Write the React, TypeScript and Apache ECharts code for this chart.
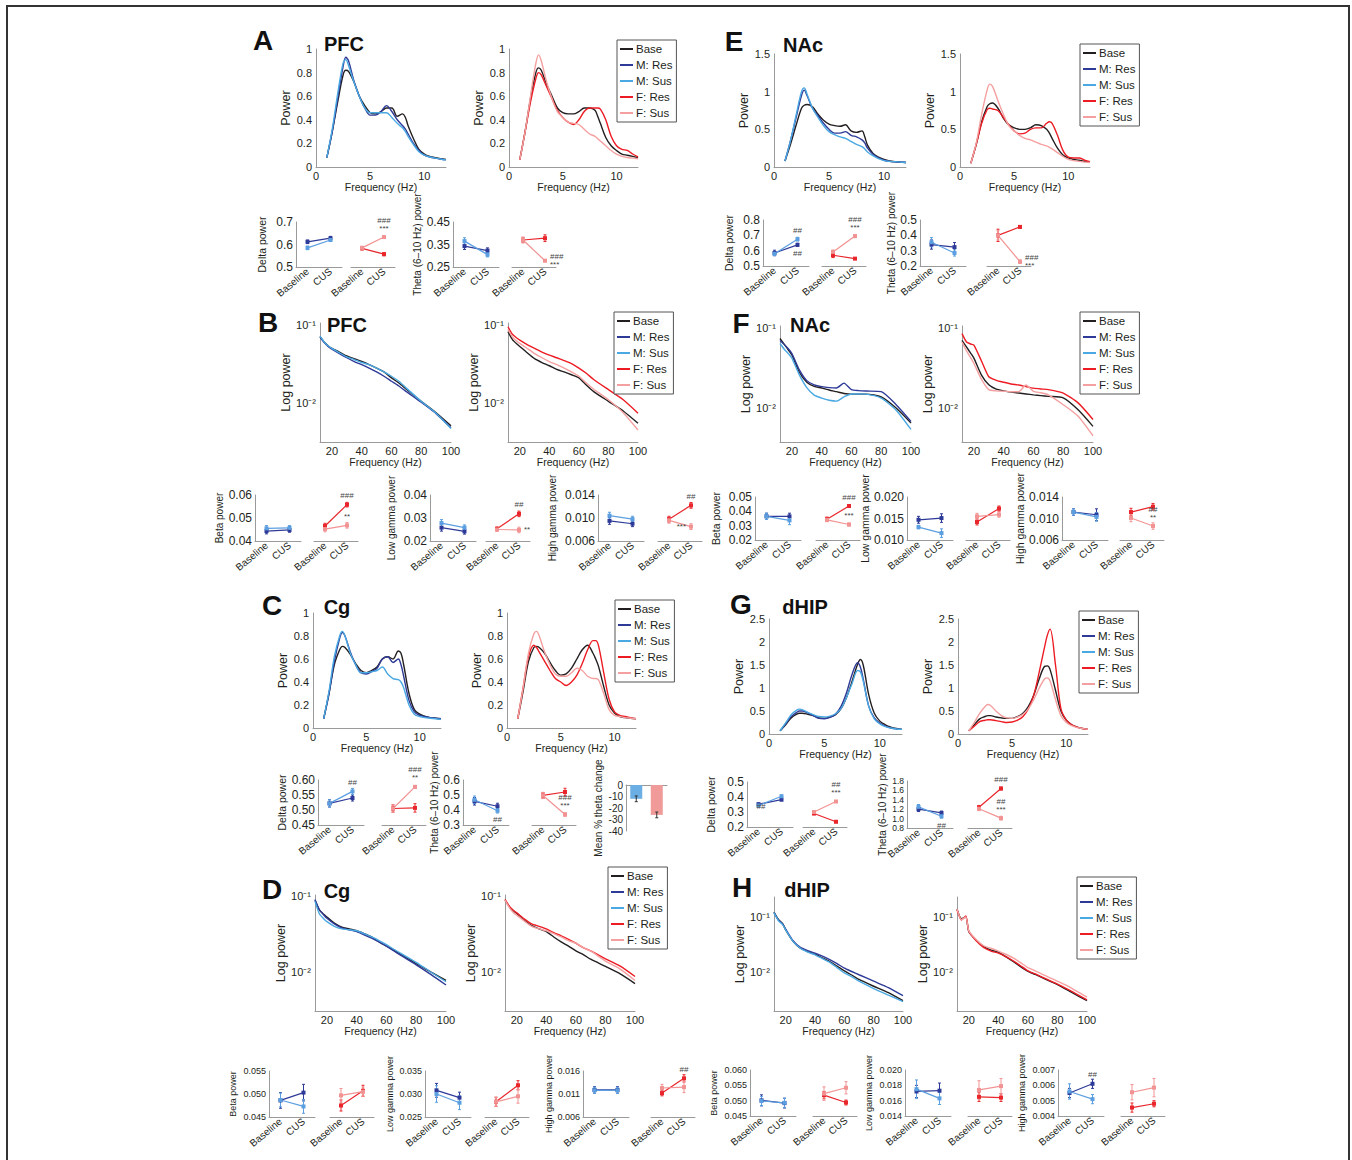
import React, { useEffect, useRef } from 'react';
import * as echarts from 'echarts';

// ---------------- data ----------------
const FREQ_LO = [1, 1.5, 2, 2.5, 2.75, 3, 3.5, 4, 4.5, 5, 5.5, 6, 6.5, 7, 7.5, 8, 8.25, 8.5, 9, 9.5, 10, 10.5, 11, 11.5, 12];
const FREQ_HI = [12, 15, 18, 20, 25, 30, 35, 40, 45, 50, 55, 60, 65, 70, 80, 90, 100];
const LEGEND_NAMES = ['Base', 'M: Res', 'M: Sus', 'F: Res', 'F: Sus'];
const GROUPS = ['Baseline', 'CUS'];
const X_TICKS_LO = [0, 5, 10];
const X_TICKS_HI = [20, 40, 60, 80, 100];

// PFC 1-12 Hz
const PFC_LO_M_BASE = [0.08, 0.3, 0.55, 0.78, 0.82, 0.81, 0.72, 0.6, 0.52, 0.46, 0.45, 0.47, 0.5, 0.5, 0.43, 0.45, 0.42, 0.35, 0.24, 0.15, 0.11, 0.09, 0.08, 0.07, 0.065];
const PFC_LO_M_RES = [0.08, 0.3, 0.58, 0.85, 0.93, 0.9, 0.73, 0.6, 0.5, 0.44, 0.44, 0.47, 0.52, 0.47, 0.4, 0.35, 0.32, 0.28, 0.2, 0.14, 0.1, 0.085, 0.075, 0.068, 0.06];
const PFC_LO_M_SUS = [0.08, 0.32, 0.62, 0.88, 0.91, 0.86, 0.72, 0.6, 0.5, 0.46, 0.46, 0.46, 0.46, 0.42, 0.37, 0.33, 0.3, 0.26, 0.19, 0.13, 0.1, 0.085, 0.075, 0.068, 0.06];
const PFC_LO_F_BASE = [0.06, 0.3, 0.58, 0.8, 0.84, 0.82, 0.7, 0.6, 0.5, 0.46, 0.45, 0.45, 0.47, 0.5, 0.5, 0.48, 0.43, 0.37, 0.25, 0.18, 0.14, 0.11, 0.1, 0.09, 0.08];
const PFC_LO_F_RES = [0.06, 0.3, 0.55, 0.75, 0.8, 0.78, 0.68, 0.58, 0.48, 0.42, 0.38, 0.36, 0.4, 0.47, 0.5, 0.5, 0.5, 0.49, 0.4, 0.26, 0.18, 0.15, 0.14, 0.11, 0.085];
const PFC_LO_F_SUS = [0.06, 0.3, 0.6, 0.88, 0.95, 0.9, 0.72, 0.58, 0.47, 0.42, 0.38, 0.37, 0.36, 0.32, 0.28, 0.26, 0.24, 0.22, 0.18, 0.14, 0.11, 0.09, 0.08, 0.075, 0.07];
// Cg 1-12 Hz
const CG_LO_M_BASE = [0.08, 0.3, 0.55, 0.68, 0.71, 0.7, 0.64, 0.56, 0.5, 0.48, 0.5, 0.53, 0.6, 0.62, 0.6, 0.67, 0.65, 0.55, 0.3, 0.16, 0.12, 0.1, 0.09, 0.085, 0.08];
const CG_LO_M_RES = [0.08, 0.3, 0.58, 0.78, 0.83, 0.8, 0.66, 0.55, 0.48, 0.47, 0.49, 0.52, 0.6, 0.62, 0.57, 0.6, 0.55, 0.45, 0.24, 0.14, 0.11, 0.1, 0.09, 0.085, 0.08];
const CG_LO_M_SUS = [0.08, 0.32, 0.62, 0.8, 0.84, 0.8, 0.65, 0.55, 0.48, 0.48, 0.49, 0.5, 0.53, 0.47, 0.43, 0.42, 0.4, 0.35, 0.2, 0.12, 0.1, 0.09, 0.085, 0.08, 0.075];
const CG_LO_F_BASE = [0.08, 0.32, 0.58, 0.7, 0.71, 0.7, 0.65, 0.57, 0.5, 0.46, 0.47, 0.52, 0.6, 0.68, 0.72, 0.65, 0.6, 0.54, 0.36, 0.2, 0.13, 0.1, 0.09, 0.085, 0.08];
const CG_LO_F_RES = [0.08, 0.35, 0.62, 0.72, 0.7, 0.66, 0.58, 0.5, 0.43, 0.4, 0.37, 0.4, 0.46, 0.56, 0.68, 0.76, 0.76, 0.72, 0.48, 0.25, 0.14, 0.11, 0.1, 0.09, 0.08];
const CG_LO_F_SUS = [0.08, 0.35, 0.65, 0.82, 0.84, 0.8, 0.66, 0.55, 0.47, 0.45, 0.45, 0.48, 0.52, 0.5, 0.45, 0.43, 0.43, 0.42, 0.3, 0.16, 0.11, 0.1, 0.09, 0.085, 0.08];
// NAc 1-12 Hz
const NAC_LO_M_BASE = [0.08, 0.3, 0.55, 0.78, 0.82, 0.83, 0.8, 0.7, 0.62, 0.57, 0.55, 0.54, 0.56, 0.48, 0.46, 0.48, 0.4, 0.29, 0.18, 0.13, 0.1, 0.08, 0.07, 0.065, 0.06];
const NAC_LO_M_RES = [0.08, 0.35, 0.65, 0.95, 1.02, 0.95, 0.78, 0.68, 0.58, 0.5, 0.45, 0.45, 0.47, 0.42, 0.4, 0.36, 0.32, 0.25, 0.17, 0.12, 0.09, 0.075, 0.07, 0.065, 0.06];
const NAC_LO_M_SUS = [0.08, 0.35, 0.68, 1.0, 1.05, 0.97, 0.78, 0.66, 0.55, 0.47, 0.43, 0.4, 0.38, 0.34, 0.3, 0.27, 0.24, 0.2, 0.15, 0.11, 0.085, 0.075, 0.07, 0.065, 0.06];
const NAC_LO_F_BASE = [0.05, 0.3, 0.6, 0.8, 0.84, 0.85, 0.78, 0.65, 0.56, 0.52, 0.5, 0.5, 0.52, 0.56, 0.55, 0.5, 0.45, 0.38, 0.25, 0.16, 0.12, 0.1, 0.09, 0.075, 0.07];
const NAC_LO_F_RES = [0.05, 0.3, 0.58, 0.76, 0.78, 0.77, 0.75, 0.66, 0.56, 0.48, 0.44, 0.45, 0.5, 0.52, 0.52, 0.58, 0.6, 0.58, 0.42, 0.22, 0.13, 0.12, 0.12, 0.09, 0.07];
const NAC_LO_F_SUS = [0.05, 0.32, 0.7, 1.02, 1.1, 1.07, 0.88, 0.7, 0.55, 0.48, 0.42, 0.38, 0.36, 0.33, 0.3, 0.28, 0.26, 0.24, 0.19, 0.14, 0.1, 0.085, 0.075, 0.065, 0.06];
// dHIP 1-12 Hz
const DHIP_LO_M_BASE = [0.07, 0.2, 0.35, 0.43, 0.45, 0.45, 0.43, 0.4, 0.35, 0.34, 0.37, 0.42, 0.55, 0.8, 1.15, 1.52, 1.62, 1.5, 0.85, 0.45, 0.28, 0.2, 0.15, 0.12, 0.1];
const DHIP_LO_M_RES = [0.07, 0.22, 0.38, 0.47, 0.5, 0.5, 0.46, 0.4, 0.34, 0.33, 0.36, 0.43, 0.6, 0.9, 1.3, 1.55, 1.45, 1.2, 0.6, 0.35, 0.24, 0.17, 0.13, 0.11, 0.1];
const DHIP_LO_M_SUS = [0.07, 0.24, 0.42, 0.52, 0.54, 0.53, 0.47, 0.42, 0.38, 0.37, 0.39, 0.44, 0.55, 0.8, 1.1, 1.38, 1.35, 1.15, 0.6, 0.33, 0.22, 0.16, 0.13, 0.11, 0.1];
const DHIP_LO_F_BASE = [0.07, 0.2, 0.33, 0.38, 0.4, 0.4, 0.37, 0.35, 0.34, 0.34, 0.38, 0.45, 0.6, 0.85, 1.2, 1.47, 1.48, 1.4, 0.95, 0.5, 0.3, 0.2, 0.15, 0.12, 0.1];
const DHIP_LO_F_RES = [0.07, 0.17, 0.27, 0.3, 0.31, 0.31, 0.29, 0.27, 0.25, 0.26, 0.3, 0.38, 0.55, 0.85, 1.35, 1.9, 2.15, 2.28, 1.5, 0.55, 0.3, 0.2, 0.15, 0.12, 0.1];
const DHIP_LO_F_SUS = [0.07, 0.25, 0.45, 0.6, 0.64, 0.62, 0.5, 0.4, 0.35, 0.34, 0.37, 0.43, 0.55, 0.75, 1.0, 1.2, 1.22, 1.15, 0.75, 0.4, 0.25, 0.18, 0.14, 0.12, 0.1];

// 12-100 Hz log power
const PFC_HI_M_BASE = [0.071, 0.06, 0.053, 0.05, 0.045, 0.04, 0.037, 0.034, 0.031, 0.028, 0.025, 0.021, 0.018, 0.015, 0.0105, 0.0075, 0.0051];
const PFC_HI_M_RES = [0.07, 0.059, 0.052, 0.049, 0.043, 0.038, 0.034, 0.031, 0.028, 0.025, 0.022, 0.019, 0.0165, 0.014, 0.0102, 0.0073, 0.0048];
const PFC_HI_M_SUS = [0.072, 0.06, 0.053, 0.05, 0.044, 0.039, 0.036, 0.033, 0.031, 0.028, 0.025, 0.022, 0.019, 0.0155, 0.0105, 0.0074, 0.0047];
const PFC_HI_F_BASE = [0.082, 0.065, 0.057, 0.053, 0.044, 0.037, 0.033, 0.03, 0.027, 0.025, 0.023, 0.021, 0.017, 0.014, 0.0105, 0.0079, 0.0055];
const PFC_HI_F_RES = [0.095, 0.076, 0.068, 0.064, 0.056, 0.05, 0.045, 0.041, 0.038, 0.035, 0.032, 0.028, 0.024, 0.02, 0.0148, 0.011, 0.0074];
const PFC_HI_F_SUS = [0.088, 0.07, 0.062, 0.058, 0.05, 0.043, 0.038, 0.034, 0.031, 0.028, 0.025, 0.022, 0.018, 0.015, 0.011, 0.0075, 0.0045];
const CG_HI_M_BASE = [0.088, 0.065, 0.057, 0.053, 0.044, 0.039, 0.037, 0.035, 0.032, 0.029, 0.025, 0.022, 0.0195, 0.017, 0.013, 0.01, 0.0078];
const CG_HI_M_RES = [0.09, 0.066, 0.056, 0.051, 0.043, 0.038, 0.036, 0.034, 0.031, 0.028, 0.025, 0.022, 0.019, 0.0165, 0.0125, 0.0093, 0.0068];
const CG_HI_M_SUS = [0.085, 0.058, 0.05, 0.046, 0.04, 0.037, 0.036, 0.035, 0.032, 0.029, 0.026, 0.023, 0.02, 0.0175, 0.0135, 0.01, 0.0075];
const CG_HI_F_BASE = [0.088, 0.072, 0.063, 0.059, 0.048, 0.041, 0.037, 0.034, 0.029, 0.025, 0.022, 0.019, 0.017, 0.0148, 0.0119, 0.0095, 0.0071];
const CG_HI_F_RES = [0.09, 0.073, 0.064, 0.06, 0.05, 0.043, 0.04, 0.037, 0.033, 0.03, 0.027, 0.024, 0.021, 0.019, 0.015, 0.012, 0.0088];
const CG_HI_F_SUS = [0.088, 0.07, 0.06, 0.056, 0.047, 0.04, 0.037, 0.035, 0.032, 0.029, 0.026, 0.024, 0.021, 0.019, 0.014, 0.011, 0.0078];
const NAC_HI_M_BASE = [0.074, 0.062, 0.052, 0.046, 0.028, 0.021, 0.0186, 0.0178, 0.0168, 0.016, 0.0152, 0.0149, 0.0149, 0.0149, 0.0138, 0.01, 0.0065];
const NAC_HI_M_RES = [0.07, 0.062, 0.054, 0.048, 0.03, 0.022, 0.0195, 0.0185, 0.018, 0.0178, 0.0205, 0.017, 0.0165, 0.0163, 0.016, 0.011, 0.0068];
const NAC_HI_M_SUS = [0.064, 0.054, 0.047, 0.042, 0.026, 0.018, 0.0145, 0.0133, 0.0125, 0.0122, 0.0138, 0.015, 0.015, 0.0149, 0.0133, 0.0094, 0.0054];
const NAC_HI_F_BASE = [0.07, 0.058, 0.048, 0.042, 0.026, 0.0195, 0.0172, 0.0164, 0.0158, 0.0154, 0.015, 0.0146, 0.0143, 0.014, 0.0134, 0.0095, 0.0059];
const NAC_HI_F_RES = [0.085, 0.067, 0.063, 0.061, 0.039, 0.0246, 0.0222, 0.021, 0.02, 0.0194, 0.0185, 0.0177, 0.0173, 0.017, 0.0154, 0.0116, 0.0072];
const NAC_HI_F_SUS = [0.067, 0.052, 0.042, 0.036, 0.023, 0.017, 0.0164, 0.0162, 0.016, 0.016, 0.0194, 0.0162, 0.0155, 0.0146, 0.011, 0.0079, 0.0045];
const DHIP_HI_M_BASE = [0.123, 0.09, 0.075, 0.058, 0.036, 0.027, 0.0235, 0.021, 0.018, 0.0155, 0.0128, 0.0105, 0.0088, 0.0073, 0.0055, 0.0042, 0.003];
const DHIP_HI_M_RES = [0.12, 0.088, 0.074, 0.06, 0.037, 0.028, 0.0245, 0.022, 0.0195, 0.0168, 0.0142, 0.0117, 0.0102, 0.0089, 0.0068, 0.0052, 0.0037];
const DHIP_HI_M_SUS = [0.12, 0.086, 0.072, 0.058, 0.036, 0.027, 0.023, 0.0205, 0.0175, 0.015, 0.012, 0.0096, 0.0082, 0.0068, 0.005, 0.0038, 0.0029];
const DHIP_HI_F_BASE = [0.14, 0.093, 0.1, 0.054, 0.038, 0.029, 0.025, 0.023, 0.019, 0.0155, 0.0125, 0.0103, 0.009, 0.0078, 0.0059, 0.0042, 0.003];
const DHIP_HI_F_RES = [0.135, 0.088, 0.105, 0.055, 0.037, 0.028, 0.024, 0.022, 0.019, 0.016, 0.013, 0.0105, 0.0092, 0.008, 0.006, 0.0044, 0.0031];
const DHIP_HI_F_SUS = [0.14, 0.09, 0.1, 0.056, 0.039, 0.03, 0.027, 0.024, 0.021, 0.018, 0.0148, 0.012, 0.0105, 0.009, 0.0068, 0.005, 0.0035];

// Band power summaries: rows = M Res, M Sus, F Res, F Sus ; cols = Baseline, CUS
const A_DELTA = [[0.612, 0.628], [0.585, 0.62], [0.583, 0.557], [0.585, 0.633]];
const A_DELTA_ERR = [[0.008, 0.008], [0.008, 0.006], [0.007, 0.007], [0.007, 0.006]];
const A_DELTA_NOTES = [[3, 1, '###\n***', 'top']];
const A_THETA = [[0.343, 0.323], [0.365, 0.305], [0.37, 0.378], [0.37, 0.278]];
const A_THETA_ERR = [[0.015, 0.012], [0.015, 0.01], [0.012, 0.015], [0.012, 0.005]];
const A_THETA_NOTES = [[3, 1, '###\n***', 'right']];

const B_BETA = [[0.0443, 0.0448], [0.0455, 0.0457], [0.0465, 0.0558], [0.0452, 0.0468]];
const B_BETA_ERR = [[0.0012, 0.001], [0.0012, 0.001], [0.0012, 0.001], [0.0012, 0.0012]];
const B_BETA_NOTES = [[2, 1, '###', 'top'], [3, 1, '**', 'top']];
const B_LGAMMA = [[0.0258, 0.0242], [0.0278, 0.0258], [0.0253, 0.0318], [0.025, 0.0248]];
const B_LGAMMA_ERR = [[0.0015, 0.0012], [0.0015, 0.0012], [0.0008, 0.0012], [0.0008, 0.0012]];
const B_LGAMMA_NOTES = [[2, 1, '##', 'top'], [3, 1, '**', 'right']];
const B_HGAMMA = [[0.0095, 0.009], [0.0104, 0.0098], [0.0098, 0.0122], [0.0096, 0.0085]];
const B_HGAMMA_ERR = [[0.0006, 0.0005], [0.0006, 0.0005], [0.0005, 0.0005], [0.0005, 0.0005]];
const B_HGAMMA_NOTES = [[2, 1, '##', 'top'], [3, 1, '***', 'left']];

const C_DELTA = [[0.522, 0.54], [0.522, 0.562], [0.505, 0.507], [0.505, 0.577]];
const C_DELTA_ERR = [[0.012, 0.01], [0.012, 0.01], [0.012, 0.014], [0.012, 0.005]];
const C_DELTA_NOTES = [[1, 1, '##', 'top'], [3, 1, '###\n**', 'top']];
const C_THETA = [[0.458, 0.425], [0.468, 0.395], [0.497, 0.52], [0.497, 0.37]];
const C_THETA_ERR = [[0.025, 0.02], [0.025, 0.015], [0.02, 0.025], [0.02, 0.012]];
const C_THETA_NOTES = [[1, 1, '##', 'bottom'], [3, 1, '###\n***', 'top']];
const C_THETA_CHANGE = [-12, -26];
const C_THETA_CHANGE_ERR = [2.5, 2.5];

const D_BETA = [[0.0486, 0.0503], [0.0487, 0.0473], [0.0475, 0.0507], [0.0497, 0.0505]];
const D_BETA_ERR = [[0.0017, 0.0018], [0.0015, 0.0015], [0.0012, 0.0012], [0.0015, 0.001]];
const D_LGAMMA = [[0.0308, 0.0292], [0.03, 0.0281], [0.0283, 0.0319], [0.0283, 0.0295]];
const D_LGAMMA_ERR = [[0.0015, 0.0012], [0.0018, 0.0015], [0.001, 0.001], [0.001, 0.0015]];
const D_HGAMMA = [[0.0119, 0.0119], [0.0118, 0.0118], [0.0112, 0.0144], [0.0123, 0.0125]];
const D_HGAMMA_ERR = [[0.0007, 0.0007], [0.0007, 0.0007], [0.0006, 0.0008], [0.0008, 0.0012]];
const D_HGAMMA_NOTES = [[2, 1, '##', 'top']];

const E_DELTA = [[0.585, 0.638], [0.58, 0.675], [0.57, 0.548], [0.592, 0.695]];
const E_DELTA_ERR = [[0.018, 0.01], [0.012, 0.012], [0.015, 0.005], [0.012, 0.01]];
const E_DELTA_NOTES = [[1, 1, '##', 'top'], [0, 1, '##', 'bottom'], [3, 1, '###\n***', 'top']];
const E_THETA = [[0.34, 0.323], [0.355, 0.285], [0.4, 0.455], [0.4, 0.228]];
const E_THETA_ERR = [[0.03, 0.03], [0.03, 0.02], [0.04, 0.008], [0.03, 0.012]];
const E_THETA_NOTES = [[3, 1, '###\n***', 'right']];

const F_BETA = [[0.0365, 0.0365], [0.0365, 0.0337], [0.0345, 0.0437], [0.034, 0.0308]];
const F_BETA_ERR = [[0.0022, 0.0022], [0.0022, 0.003], [0.0015, 0.001], [0.0012, 0.001]];
const F_BETA_NOTES = [[2, 1, '###', 'top'], [3, 1, '***', 'top']];
const F_LGAMMA = [[0.0147, 0.0151], [0.013, 0.0116], [0.0142, 0.0173], [0.0155, 0.0159]];
const F_LGAMMA_ERR = [[0.0008, 0.001], [0.0004, 0.001], [0.0007, 0.0006], [0.0007, 0.0006]];
const F_HGAMMA = [[0.0112, 0.0107], [0.0112, 0.0103], [0.0112, 0.0122], [0.0101, 0.0086]];
const F_HGAMMA_ERR = [[0.0006, 0.0011], [0.0006, 0.0008], [0.0007, 0.0006], [0.0007, 0.0006]];
const F_HGAMMA_NOTES = [[3, 1, '##\n**', 'top']];

const G_DELTA = [[0.352, 0.382], [0.343, 0.405], [0.29, 0.235], [0.3, 0.37]];
const G_DELTA_ERR = [[0.008, 0.006], [0.008, 0.008], [0.008, 0.006], [0.008, 0.006]];
const G_DELTA_NOTES = [[0, 0, '##', 'topRight'], [3, 1, '##\n***', 'top']];
const G_THETA = [[1.2, 1.12], [1.25, 1.05], [1.24, 1.64], [1.21, 1.01]];
const G_THETA_ERR = [[0.05, 0.04], [0.05, 0.04], [0.04, 0.03], [0.04, 0.04]];
const G_THETA_NOTES = [[1, 1, '##', 'bottom'], [2, 1, '###', 'top'], [3, 1, '##\n***', 'top']];

const H_BETA = [[0.0501, 0.0492], [0.0499, 0.0493], [0.0518, 0.0494], [0.0523, 0.0542]];
const H_BETA_ERR = [[0.0018, 0.0016], [0.0015, 0.0015], [0.0012, 0.0008], [0.0022, 0.002]];
const H_LGAMMA = [[0.0172, 0.0173], [0.0175, 0.0163], [0.0165, 0.0164], [0.0174, 0.0179]];
const H_LGAMMA_ERR = [[0.0008, 0.001], [0.0012, 0.0008], [0.0006, 0.0005], [0.0012, 0.001]];
const H_HGAMMA = [[0.0055, 0.0061], [0.0056, 0.0051], [0.00455, 0.0048], [0.00555, 0.00585]];
const H_HGAMMA_ERR = [[0.0003, 0.0003], [0.0005, 0.0003], [0.0003, 0.0002], [0.0005, 0.0006]];
const H_HGAMMA_NOTES = [[0, 1, '##', 'top']];

// ---------------- styles / layout ----------------
const FONT = '"Liberation Sans", Arial, Helvetica, sans-serif';
const TXT = '#231f20';
const AXIS_GRAY = '#9a9a9a';
const LINE_COLORS: any = { base: '#231f20', mRes: '#2e3a98', mSus: '#4aa8e2', fRes: '#ed1c24', fSus: '#f5a0a0' };
const DOT_COLORS = ['#2e3a98', '#5b9fe0', '#e8262b', '#f29393'];

const SPECTRA: any[] = [
  { box: [316, 49, 130, 118], kind: 'lo', yMax: 1, yStep: 0.2, nameGap: 21, lines: [['Base', PFC_LO_M_BASE, 'base'], ['M: Res', PFC_LO_M_RES, 'mRes'], ['M: Sus', PFC_LO_M_SUS, 'mSus']] },
  { box: [509, 49, 129, 118], kind: 'lo', yMax: 1, yStep: 0.2, nameGap: 22, lines: [['Base', PFC_LO_F_BASE, 'base'], ['F: Res', PFC_LO_F_RES, 'fRes'], ['F: Sus', PFC_LO_F_SUS, 'fSus']] },
  { box: [320, 323, 131, 119], kind: 'hi', yMin: 0.00316, yMax: 0.106, nameGap: 26, lines: [['Base', PFC_HI_M_BASE, 'base'], ['M: Res', PFC_HI_M_RES, 'mRes'], ['M: Sus', PFC_HI_M_SUS, 'mSus']] },
  { box: [508, 323, 130, 119], kind: 'hi', yMin: 0.00316, yMax: 0.106, nameGap: 25, lines: [['Base', PFC_HI_F_BASE, 'base'], ['F: Res', PFC_HI_F_RES, 'fRes'], ['F: Sus', PFC_HI_F_SUS, 'fSus']] },
  { box: [313, 613, 128, 115], kind: 'lo', yMax: 1, yStep: 0.2, nameGap: 23, lines: [['Base', CG_LO_M_BASE, 'base'], ['M: Res', CG_LO_M_RES, 'mRes'], ['M: Sus', CG_LO_M_SUS, 'mSus']] },
  { box: [507, 613, 129, 115], kind: 'lo', yMax: 1, yStep: 0.2, nameGap: 21.5, lines: [['Base', CG_LO_F_BASE, 'base'], ['F: Res', CG_LO_F_RES, 'fRes'], ['F: Sus', CG_LO_F_SUS, 'fSus']] },
  { box: [315, 895, 131, 116], kind: 'hi', yMin: 0.0031, yMax: 0.103, nameGap: 26.5, lines: [['Base', CG_HI_M_BASE, 'base'], ['M: Res', CG_HI_M_RES, 'mRes'], ['M: Sus', CG_HI_M_SUS, 'mSus']] },
  { box: [505, 895, 130, 116], kind: 'hi', yMin: 0.0031, yMax: 0.103, nameGap: 22, lines: [['Base', CG_HI_F_BASE, 'base'], ['F: Res', CG_HI_F_RES, 'fRes'], ['F: Sus', CG_HI_F_SUS, 'fSus']] },
  { box: [774, 54, 132, 113], kind: 'lo', yMax: 1.5, yStep: 0.5, nameGap: 22.5, lines: [['Base', NAC_LO_M_BASE, 'base'], ['M: Res', NAC_LO_M_RES, 'mRes'], ['M: Sus', NAC_LO_M_SUS, 'mSus']] },
  { box: [960, 54, 130, 113], kind: 'lo', yMax: 1.5, yStep: 0.5, nameGap: 21.5, lines: [['Base', NAC_LO_F_BASE, 'base'], ['F: Res', NAC_LO_F_RES, 'fRes'], ['F: Sus', NAC_LO_F_SUS, 'fSus']] },
  { box: [780, 326, 131, 116], kind: 'hi', yMin: 0.00376, yMax: 0.106, nameGap: 24.5, lines: [['Base', NAC_HI_M_BASE, 'base'], ['M: Res', NAC_HI_M_RES, 'mRes'], ['M: Sus', NAC_HI_M_SUS, 'mSus']] },
  { box: [962, 326, 131, 116], kind: 'hi', yMin: 0.00376, yMax: 0.106, nameGap: 26.5, lines: [['Base', NAC_HI_F_BASE, 'base'], ['F: Res', NAC_HI_F_RES, 'fRes'], ['F: Sus', NAC_HI_F_SUS, 'fSus']] },
  { box: [769, 619, 133, 115], kind: 'lo', yMax: 2.5, yStep: 0.5, nameGap: 18.5, lines: [['Base', DHIP_LO_M_BASE, 'base'], ['M: Res', DHIP_LO_M_RES, 'mRes'], ['M: Sus', DHIP_LO_M_SUS, 'mSus']] },
  { box: [958, 619, 130, 115], kind: 'lo', yMax: 2.5, yStep: 0.5, nameGap: 19.5, lines: [['Base', DHIP_LO_F_BASE, 'base'], ['F: Res', DHIP_LO_F_RES, 'fRes'], ['F: Sus', DHIP_LO_F_SUS, 'fSus']] },
  { box: [774, 897, 129, 114], kind: 'hi', yMin: 0.00195, yMax: 0.231, nameGap: 27.5, lines: [['Base', DHIP_HI_M_BASE, 'base'], ['M: Res', DHIP_HI_M_RES, 'mRes'], ['M: Sus', DHIP_HI_M_SUS, 'mSus']] },
  { box: [957, 897, 130, 114], kind: 'hi', yMin: 0.00195, yMax: 0.231, nameGap: 27.5, lines: [['Base', DHIP_HI_F_BASE, 'base'], ['F: Res', DHIP_HI_F_RES, 'fRes'], ['F: Sus', DHIP_HI_F_SUS, 'fSus']] },
];

const T_DELTA = 'Delta power';
const T_THETA = 'Theta (6–10 Hz) power';
const T_BETA = 'Beta power';
const T_LG = 'Low gamma power';
const T_HG = 'High gamma power';

const DOTS: any[] = [
  { vals: A_DELTA, errs: A_DELTA_ERR, notes: A_DELTA_NOTES, male: 296, female: 351, top: 222, h: 45, min: 0.5, max: 0.7, step: 0.1, dec: 1, fs: 12, title: T_DELTA, titleX: 262, tfs: 10.5 },
  { vals: A_THETA, errs: A_THETA_ERR, notes: A_THETA_NOTES, male: 453, female: 512, top: 222, h: 45, min: 0.25, max: 0.45, step: 0.1, dec: 2, fs: 12, title: T_THETA, titleX: 421, tfs: 10 },
  { vals: B_BETA, errs: B_BETA_ERR, notes: B_BETA_NOTES, male: 255, female: 314, top: 495, h: 46, min: 0.04, max: 0.06, step: 0.01, dec: 2, fs: 12, title: T_BETA, titleX: 219, tfs: 10 },
  { vals: B_LGAMMA, errs: B_LGAMMA_ERR, notes: B_LGAMMA_NOTES, male: 430, female: 486, top: 495, h: 46, min: 0.02, max: 0.04, step: 0.01, dec: 2, fs: 12, title: T_LG, titleX: 391, tfs: 10 },
  { vals: B_HGAMMA, errs: B_HGAMMA_ERR, notes: B_HGAMMA_NOTES, male: 598, female: 658, top: 495, h: 46, min: 0.006, max: 0.014, step: 0.004, dec: 3, fs: 12, title: T_HG, titleX: 552, tfs: 10 },
  { vals: C_DELTA, errs: C_DELTA_ERR, notes: C_DELTA_NOTES, male: 318, female: 382, top: 780, h: 45, min: 0.45, max: 0.6, step: 0.05, dec: 2, fs: 12, title: T_DELTA, titleX: 285, tfs: 10.5 },
  { vals: C_THETA, errs: C_THETA_ERR, notes: C_THETA_NOTES, male: 463, female: 532, top: 780, h: 45, min: 0.3, max: 0.6, step: 0.1, dec: 1, fs: 12, title: T_THETA, titleX: 440, tfs: 10 },
  { vals: D_BETA, errs: D_BETA_ERR, notes: [], male: 269, female: 330, top: 1071, h: 46, min: 0.045, max: 0.055, step: 0.005, dec: 3, fs: 9, title: T_BETA, titleX: 233, tfs: 9 },
  { vals: D_LGAMMA, errs: D_LGAMMA_ERR, notes: [], male: 425, female: 485, top: 1071, h: 46, min: 0.025, max: 0.035, step: 0.005, dec: 3, fs: 9, title: T_LG, titleX: 390, tfs: 9 },
  { vals: D_HGAMMA, errs: D_HGAMMA_ERR, notes: D_HGAMMA_NOTES, male: 583, female: 651, top: 1071, h: 46, min: 0.006, max: 0.016, step: 0.005, dec: 3, fs: 9, title: T_HG, titleX: 553, tfs: 9 },
  { vals: E_DELTA, errs: E_DELTA_ERR, notes: E_DELTA_NOTES, male: 763, female: 822, top: 220, h: 46, min: 0.5, max: 0.8, step: 0.1, dec: 1, fs: 12, title: T_DELTA, titleX: 729, tfs: 10.5 },
  { vals: E_THETA, errs: E_THETA_ERR, notes: E_THETA_NOTES, male: 920, female: 987, top: 220, h: 46, min: 0.2, max: 0.5, step: 0.1, dec: 1, fs: 12, title: T_THETA, titleX: 897, tfs: 10 },
  { vals: F_BETA, errs: F_BETA_ERR, notes: F_BETA_NOTES, male: 755, female: 816, top: 497, h: 43, min: 0.02, max: 0.05, step: 0.01, dec: 2, fs: 12, title: T_BETA, titleX: 716, tfs: 10.5 },
  { vals: F_LGAMMA, errs: F_LGAMMA_ERR, notes: [], male: 907, female: 966, top: 497, h: 43, min: 0.01, max: 0.02, step: 0.005, dec: 3, fs: 12, title: T_LG, titleX: 867, tfs: 10.5 },
  { vals: F_HGAMMA, errs: F_HGAMMA_ERR, notes: F_HGAMMA_NOTES, male: 1062, female: 1120, top: 497, h: 43, min: 0.006, max: 0.014, step: 0.004, dec: 3, fs: 12, title: T_HG, titleX: 1022, tfs: 10.5 },
  { vals: G_DELTA, errs: G_DELTA_ERR, notes: G_DELTA_NOTES, male: 747, female: 803, top: 782, h: 45, min: 0.2, max: 0.5, step: 0.1, dec: 1, fs: 12, title: T_DELTA, titleX: 711, tfs: 10.5 },
  { vals: G_THETA, errs: G_THETA_ERR, notes: G_THETA_NOTES, male: 907, female: 968, top: 781, h: 47, min: 0.8, max: 1.8, step: 0.2, dec: 1, fs: 8.5, title: T_THETA, titleX: 882, tfs: 10 },
  { vals: H_BETA, errs: H_BETA_ERR, notes: [], male: 750, female: 813, top: 1070, h: 46, min: 0.045, max: 0.06, step: 0.005, dec: 3, fs: 9, title: T_BETA, titleX: 714, tfs: 9 },
  { vals: H_LGAMMA, errs: H_LGAMMA_ERR, notes: [], male: 905, female: 968, top: 1070, h: 46, min: 0.014, max: 0.02, step: 0.002, dec: 3, fs: 9, title: T_LG, titleX: 869, tfs: 9 },
  { vals: H_HGAMMA, errs: H_HGAMMA_ERR, notes: H_HGAMMA_NOTES, male: 1058, female: 1121, top: 1070, h: 46, min: 0.004, max: 0.007, step: 0.001, dec: 3, fs: 9, title: T_HG, titleX: 1022, tfs: 9 },
];

const LEGEND_POS = [[617, 40], [614, 312], [615, 600], [608, 867], [1080, 44], [1080, 312], [1079, 611], [1077, 877]];
const PANEL_TEXT: any[] = [
  ['A', 263, 40, 'PFC', 344, 44], ['B', 268, 322, 'PFC', 347, 325], ['C', 272, 605, 'Cg', 337, 607], ['D', 272, 889, 'Cg', 337, 891],
  ['E', 734, 41, 'NAc', 803, 45], ['F', 741, 323, 'NAc', 810, 325], ['G', 741, 604, 'dHIP', 805, 607], ['H', 742, 887, 'dHIP', 807, 890],
];

function errRender(color: string) {
  return (params: any, api: any) => {
    const p = api.value(0);
    const m = api.value(1);
    const e = api.value(2);
    const a = api.coord([p, m + e]);
    const c = api.coord([p, m - e]);
    const st = { stroke: color, lineWidth: 1 };
    return {
      type: 'group',
      children: [
        { type: 'line', shape: { x1: a[0], y1: a[1], x2: c[0], y2: c[1] }, style: st },
        { type: 'line', shape: { x1: a[0] - 1.5, y1: a[1], x2: a[0] + 1.5, y2: a[1] }, style: st },
        { type: 'line', shape: { x1: c[0] - 1.5, y1: c[1], x2: c[0] + 1.5, y2: c[1] }, style: st },
      ],
    };
  };
}

function supLabel(v: number) {
  const l = Math.log10(v);
  if (Math.abs(l + 1) < 0.02) return '10⁻¹';
  if (Math.abs(l + 2) < 0.02) return '10⁻²';
  return '';
}

function buildOption() {
  const grid: any[] = [];
  const xAxis: any[] = [];
  const yAxis: any[] = [];
  const series: any[] = [];
  const legend: any[] = [];
  const graphic: any[] = [];

  const newGrid = (left: number, top: number, width: number, height: number) => {
    grid.push({ left, top, width, height, containLabel: false });
    return grid.length - 1;
  };

  // spectra
  SPECTRA.forEach((s) => {
    const g = newGrid(s.box[0], s.box[1], s.box[2], s.box[3]);
    const lo = s.kind === 'lo';
    xAxis.push({
      gridIndex: g, type: 'value', min: lo ? 0 : 12, max: lo ? 12 : 100, interval: lo ? 1 : 4,
      axisLine: { onZero: false, lineStyle: { color: AXIS_GRAY } }, axisTick: { show: false }, splitLine: { show: false },
      axisLabel: { fontSize: 11, color: TXT, margin: 3, formatter: (v: number) => ((lo ? X_TICKS_LO : X_TICKS_HI).includes(v) ? String(v) : '') },
      name: 'Frequency (Hz)', nameLocation: 'middle', nameGap: 14, nameTextStyle: { fontSize: 10.5, color: TXT },
    });
    const xi = xAxis.length - 1;
    if (lo) {
      yAxis.push({
        gridIndex: g, type: 'value', min: 0, max: s.yMax, interval: s.yStep,
        axisLine: { show: true, onZero: false, lineStyle: { color: AXIS_GRAY } }, axisTick: { show: false }, splitLine: { show: false },
        axisLabel: { fontSize: 11, color: TXT, margin: 4 },
        name: 'Power', nameLocation: 'middle', nameGap: s.nameGap, nameTextStyle: { fontSize: 12.5, color: TXT },
      });
    } else {
      yAxis.push({
        gridIndex: g, type: 'log', logBase: 10, min: s.yMin, max: s.yMax,
        axisLine: { show: true, onZero: false, lineStyle: { color: AXIS_GRAY } }, axisTick: { show: false }, splitLine: { show: false },
        axisLabel: { fontSize: 11, color: TXT, margin: 4, formatter: supLabel },
        name: 'Log power', nameLocation: 'middle', nameGap: s.nameGap, nameTextStyle: { fontSize: 12.5, color: TXT },
      });
    }
    const yi = yAxis.length - 1;
    const freq = lo ? FREQ_LO : FREQ_HI;
    s.lines.forEach((ln: any) => {
      const color = LINE_COLORS[ln[2]];
      series.push({
        type: 'line', name: ln[0], xAxisIndex: xi, yAxisIndex: yi,
        data: freq.map((f, i) => [f, ln[1][i]]),
        showSymbol: false, symbol: 'none', smooth: lo ? 0.35 : 0.2, silent: true,
        lineStyle: { width: 1.4, color }, itemStyle: { color },
      });
    });
  });

  // dot plots
  DOTS.forEach((d) => {
    const gm = newGrid(d.male, d.top, 46, d.h);
    const gf = newGrid(d.female, d.top, 44, d.h);
    const xa = (gi: number) => ({
      gridIndex: gi, type: 'category', data: GROUPS, boundaryGap: true,
      axisLine: { onZero: false, lineStyle: { color: AXIS_GRAY } }, axisTick: { show: false },
      axisLabel: { rotate: 40, fontSize: 10, margin: 3, color: TXT, interval: 0 },
    });
    xAxis.push(xa(gm));
    const xm = xAxis.length - 1;
    xAxis.push(xa(gf));
    const xf = xAxis.length - 1;
    yAxis.push({
      gridIndex: gm, type: 'value', min: d.min, max: d.max, interval: d.step,
      axisLine: { show: true, onZero: false, lineStyle: { color: AXIS_GRAY } }, axisTick: { show: false }, splitLine: { show: false },
      axisLabel: { fontSize: d.fs, color: TXT, margin: 3, formatter: (v: number) => v.toFixed(d.dec) },
      name: d.title, nameLocation: 'middle', nameGap: d.male - d.titleX - d.tfs / 2, nameTextStyle: { fontSize: d.tfs, color: TXT },
    });
    const ym = yAxis.length - 1;
    yAxis.push({ gridIndex: gf, type: 'value', min: d.min, max: d.max, interval: d.step, show: false });
    const yf = yAxis.length - 1;
    d.vals.forEach((row: number[], r: number) => {
      const color = DOT_COLORS[r];
      const xi = r < 2 ? xm : xf;
      const yi = r < 2 ? ym : yf;
      series.push({
        type: 'custom', xAxisIndex: xi, yAxisIndex: yi, silent: true,
        data: row.map((v, p) => [p, v, d.errs[r][p]]),
        renderItem: errRender(color),
      });
      series.push({
        type: 'line', name: 'dot-' + r, xAxisIndex: xi, yAxisIndex: yi, silent: true,
        symbol: 'rect', symbolSize: 4, lineStyle: { width: 1.2, color }, itemStyle: { color },
        data: row.map((v, p) => {
          const n = d.notes.find((q: any) => q[0] === r && q[1] === p);
          if (!n) return v;
          return {
            value: v,
            label: { show: true, formatter: n[2], position: n[3], distance: 3, fontSize: 8, lineHeight: 8, color: '#444' },
          };
        }),
      });
    });
  });

  // bar chart: mean % theta change
  {
    const g = newGrid(626, 785, 41, 46);
    xAxis.push({ gridIndex: g, type: 'category', data: ['M', 'F'], position: 'top', axisLine: { lineStyle: { color: AXIS_GRAY } }, axisTick: { show: false }, axisLabel: { show: false } });
    const xi = xAxis.length - 1;
    yAxis.push({
      gridIndex: g, type: 'value', min: -40, max: 0, interval: 10,
      axisLine: { show: true, onZero: false, lineStyle: { color: AXIS_GRAY } }, axisTick: { show: false }, splitLine: { show: false },
      axisLabel: { fontSize: 10, color: TXT, margin: 3 },
      name: 'Mean % theta change', nameLocation: 'middle', nameGap: 626 - 598 - 5, nameTextStyle: { fontSize: 10, color: TXT },
    });
    const yi = yAxis.length - 1;
    const barColors = ['#6aaee3', '#f19a9a'];
    series.push({
      type: 'bar', xAxisIndex: xi, yAxisIndex: yi, barWidth: 12, silent: true,
      data: C_THETA_CHANGE.map((v, i) => ({ value: v, itemStyle: { color: barColors[i] } })),
    });
    series.push({
      type: 'custom', xAxisIndex: xi, yAxisIndex: yi, silent: true, z: 5,
      data: C_THETA_CHANGE.map((v, i) => [i, v, C_THETA_CHANGE_ERR[i]]),
      renderItem: errRender('#333'),
    });
  }

  // legends
  LEGEND_POS.forEach(([l, t]) => {
    legend.push({
      left: l, top: t, orient: 'vertical', data: LEGEND_NAMES, icon: 'rect', itemWidth: 13, itemHeight: 2, itemGap: 4,
      padding: [3, 4, 3, 3], borderColor: '#555', borderWidth: 1, backgroundColor: '#fff', selectedMode: false,
      textStyle: { fontSize: 11.5, color: TXT, padding: [0, 0, 0, -2] },
    });
  });

  // frame + panel labels
  graphic.push({ type: 'rect', silent: true, shape: { x: 7, y: 6, width: 1342, height: 1170 }, style: { fill: 'none', stroke: '#333', lineWidth: 2 } });
  PANEL_TEXT.forEach((p) => {
    graphic.push({ type: 'text', x: p[1], y: p[2], silent: true, style: { text: p[0], font: `bold 28px ${FONT}`, fill: '#111', align: 'center', verticalAlign: 'middle' } });
    graphic.push({ type: 'text', x: p[4], y: p[5], silent: true, style: { text: p[3], font: `bold 20px ${FONT}`, fill: '#111', align: 'center', verticalAlign: 'middle' } });
  });

  return {
    animation: false,
    backgroundColor: '#fff',
    textStyle: { fontFamily: FONT },
    grid, xAxis, yAxis, series, legend, graphic,
  };
}

export default function App() {
  const ref = useRef<HTMLDivElement>(null);
  useEffect(() => {
    if (!ref.current) return;
    const chart = echarts.init(ref.current, null, { renderer: 'svg' });
    chart.setOption(buildOption());
    return () => chart.dispose();
  }, []);
  return <div ref={ref} style={{ position: 'absolute', left: 0, top: 0, width: 1352, height: 1160, background: '#fff' }} />;
}
